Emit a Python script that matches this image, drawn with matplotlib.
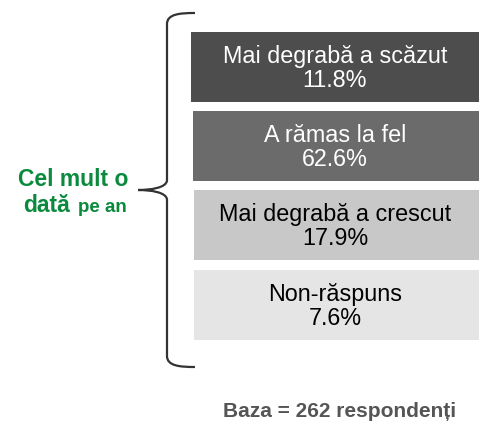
import matplotlib.pyplot as plt
from matplotlib.path import Path
from matplotlib.patches import PathPatch

plt.rcParams['font.family'] = ['Liberation Sans', 'DejaVu Sans']

# data
categories = ['Mai degrabă a scăzut', 'A rămas la fel', 'Mai degrabă a crescut', 'Non-răspuns']
values = [11.8, 62.6, 17.9, 7.6]
colors = ['#4d4d4d', '#6b6b6b', '#c8c8c8', '#e6e5e6']
text_colors = ['white', 'white', 'black', 'black']
box_left = [191, 193, 194, 194]
box_top = [32, 111, 190, 270]
box_height = 70

fig = plt.figure(figsize=(4.79, 4.21), dpi=100)
ax = fig.add_axes([0, 0, 1, 1])
ax.set_xlim(0, 479)
ax.set_ylim(421, 0)
ax.axis('off')

# boxes with category and percentage
for i in range(len(categories)):
    ax.barh(box_top[i] + box_height / 2, 479 - box_left[i], height=box_height,
            left=box_left[i], color=colors[i])
    ax.text(335, box_top[i] + 31, categories[i], ha='center', va='baseline',
            fontsize=16.8, color=text_colors[i])
    ax.text(335, box_top[i] + 55, f'{values[i]:.1f}%', ha='center', va='baseline',
            fontsize=16.8, color=text_colors[i])

# curly brace
verts = [(195, 13), (180, 13), (167, 14), (167, 24),
         (167, 180), (167, 188), (150, 190), (138, 190),
         (150, 190), (167, 192), (167, 200),
         (167, 356), (167, 366), (180, 367), (195, 367)]
codes = [Path.MOVETO, Path.CURVE4, Path.CURVE4, Path.CURVE4,
         Path.LINETO, Path.CURVE4, Path.CURVE4, Path.CURVE4,
         Path.CURVE4, Path.CURVE4, Path.CURVE4,
         Path.LINETO, Path.CURVE4, Path.CURVE4, Path.CURVE4]
ax.add_patch(PathPatch(Path(verts, codes), fill=False, edgecolor='#333333', lw=1.6))

# left label
green = '#0b8a3e'
ax.text(73, 186, 'Cel mult o', ha='center', va='baseline', fontsize=16.5,
        fontweight='bold', color=green)
ax.text(23, 212, 'dată', ha='left', va='baseline', fontsize=16.5,
        fontweight='bold', color=green)
ax.text(78, 212, 'pe an', ha='left', va='baseline', fontsize=13.5,
        fontweight='bold', color=green)

# footer
ax.text(340, 417, 'Baza = 262 respondenți', ha='center', va='baseline',
        fontsize=15, fontweight='bold', color='#555555')

fig.savefig('out.png', dpi=100)
